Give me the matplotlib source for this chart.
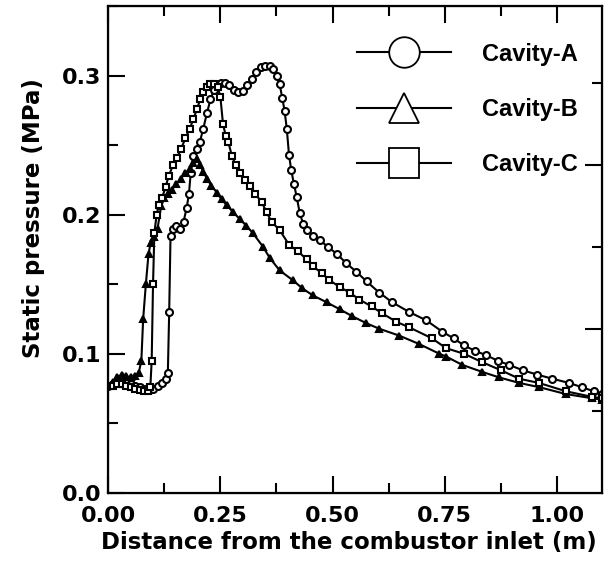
import numpy as np
import matplotlib
matplotlib.use("Agg")
import matplotlib.pyplot as plt
from matplotlib.ticker import MultipleLocator, FixedLocator, NullFormatter

# Cavity-A (circles)
x_a = [0.000, 0.010, 0.020, 0.030, 0.040, 0.050, 0.060, 0.070, 0.080, 0.090,
       0.100, 0.110, 0.120, 0.128, 0.133, 0.136, 0.139, 0.145, 0.152, 0.160,
       0.168, 0.175, 0.180, 0.184, 0.190, 0.197, 0.204, 0.212, 0.220, 0.228,
       0.236, 0.244, 0.252, 0.260, 0.270, 0.280, 0.290, 0.300, 0.310, 0.320,
       0.330, 0.340, 0.350, 0.360, 0.368, 0.376, 0.382, 0.388, 0.393, 0.398,
       0.403, 0.408, 0.414, 0.420, 0.427, 0.435, 0.444, 0.457, 0.471, 0.489,
       0.509, 0.531, 0.553, 0.576, 0.604, 0.633, 0.671, 0.709, 0.744, 0.770,
       0.793, 0.818, 0.842, 0.868, 0.893, 0.925, 0.956, 0.990, 1.027, 1.055,
       1.082, 1.100]
p_a = [0.077, 0.078, 0.079, 0.080, 0.079, 0.078, 0.077, 0.076, 0.075, 0.074,
       0.075, 0.077, 0.079, 0.082, 0.086, 0.130, 0.185, 0.190, 0.192, 0.190,
       0.195, 0.205, 0.215, 0.230, 0.242, 0.247, 0.252, 0.262, 0.273, 0.283,
       0.290, 0.294, 0.295, 0.295, 0.293, 0.290, 0.288, 0.289, 0.293, 0.298,
       0.303, 0.306, 0.307, 0.307, 0.305, 0.300, 0.294, 0.284, 0.275, 0.262,
       0.243, 0.232, 0.222, 0.213, 0.201, 0.193, 0.189, 0.185, 0.182, 0.177,
       0.172, 0.165, 0.159, 0.152, 0.144, 0.137, 0.130, 0.124, 0.116, 0.111,
       0.106, 0.102, 0.099, 0.095, 0.092, 0.088, 0.085, 0.082, 0.079, 0.076,
       0.073, 0.071]

# Cavity-B (triangles)
x_b = [0.000, 0.010, 0.020, 0.030, 0.040, 0.050, 0.060, 0.068, 0.074, 0.078,
       0.084, 0.090, 0.095, 0.102, 0.110, 0.118, 0.125, 0.133, 0.142, 0.152,
       0.162, 0.172, 0.182, 0.190, 0.198, 0.205, 0.212, 0.220, 0.230, 0.242,
       0.253, 0.264, 0.278, 0.293, 0.308, 0.322, 0.345, 0.360, 0.382, 0.411,
       0.433, 0.456, 0.487, 0.516, 0.544, 0.575, 0.604, 0.649, 0.693, 0.738,
       0.753, 0.789, 0.833, 0.871, 0.916, 0.960, 1.020, 1.078, 1.100]
p_b = [0.077, 0.080, 0.083, 0.085, 0.084, 0.083, 0.084, 0.086, 0.095, 0.125,
       0.150, 0.172, 0.180, 0.184, 0.190, 0.206, 0.212, 0.215, 0.218, 0.222,
       0.226, 0.230, 0.233, 0.237, 0.240, 0.236, 0.231, 0.226, 0.221, 0.216,
       0.211, 0.207, 0.202, 0.197, 0.192, 0.187, 0.177, 0.169, 0.160, 0.153,
       0.147, 0.142, 0.137, 0.132, 0.127, 0.122, 0.118, 0.113, 0.107, 0.100,
       0.098, 0.092, 0.087, 0.083, 0.079, 0.076, 0.071, 0.068, 0.067]

# Cavity-C (squares)
x_c = [0.000, 0.010, 0.020, 0.030, 0.040, 0.050, 0.060, 0.070, 0.080, 0.088,
       0.094, 0.097, 0.100, 0.103, 0.108, 0.113, 0.120, 0.128, 0.135, 0.145,
       0.153, 0.162, 0.172, 0.182, 0.190, 0.198, 0.205, 0.212, 0.220, 0.228,
       0.236, 0.244, 0.250, 0.256, 0.262, 0.268, 0.276, 0.284, 0.293, 0.305,
       0.316, 0.328, 0.342, 0.353, 0.364, 0.382, 0.404, 0.422, 0.442, 0.456,
       0.476, 0.493, 0.516, 0.538, 0.560, 0.587, 0.611, 0.642, 0.671, 0.722,
       0.753, 0.793, 0.833, 0.876, 0.916, 0.960, 1.020, 1.078, 1.100]
p_c = [0.077, 0.077, 0.078, 0.078, 0.077, 0.076, 0.075, 0.074, 0.073, 0.073,
       0.076, 0.095, 0.150, 0.187, 0.200, 0.207, 0.212, 0.220, 0.228, 0.236,
       0.241, 0.247, 0.255, 0.262, 0.269, 0.276, 0.283, 0.288, 0.292, 0.294,
       0.294, 0.292, 0.285, 0.265, 0.257, 0.252, 0.242, 0.236, 0.230, 0.225,
       0.221, 0.215, 0.209, 0.202, 0.195, 0.189, 0.178, 0.174, 0.168, 0.163,
       0.158, 0.153, 0.148, 0.144, 0.139, 0.134, 0.129, 0.123, 0.119, 0.111,
       0.104, 0.100, 0.094, 0.088, 0.082, 0.079, 0.073, 0.069, 0.068]

labels = ['Cavity-A', 'Cavity-B', 'Cavity-C']


def main():
    fig = plt.figure(figsize=(6.11, 5.69), dpi=100)
    ax = fig.add_axes([0.177, 0.134, 0.808, 0.855])

    style = dict(color='black', lw=1.5, markersize=5, mew=1.5,
                 markeredgecolor='black')
    ax.plot(x_a, p_a, marker='o', markerfacecolor='white', label=labels[0], **style)
    ax.plot(x_b, p_b, marker='^', markerfacecolor='black', label=labels[1], **style)
    ax.plot(x_c, p_c, marker='s', markerfacecolor='white', label=labels[2], **style)

    ax.set_xlim(0, 1.1)
    ax.set_ylim(0, 0.35)
    ax.xaxis.set_major_locator(MultipleLocator(0.25))
    ax.xaxis.set_minor_locator(MultipleLocator(0.125))
    ax.yaxis.set_major_locator(MultipleLocator(0.1))
    ax.yaxis.set_minor_locator(MultipleLocator(0.05))
    ax.xaxis.set_major_formatter(plt.FormatStrFormatter('%.2f'))
    ax.yaxis.set_major_formatter(plt.FormatStrFormatter('%.1f'))

    ax.tick_params(which='both', direction='in', top=True, right=False,
                   width=1.5, labelsize=16, pad=5)
    ax.tick_params(axis='x', which='major', pad=9.5)
    ax.tick_params(which='major', length=12)
    ax.tick_params(which='minor', length=7)
    for lab in ax.get_xticklabels() + ax.get_yticklabels():
        lab.set_fontweight('bold')
    for s in ax.spines.values():
        s.set_linewidth(1.6)

    # right-hand ticks in the scan sit at their own spacing
    ax2 = ax.twinx()
    ax2.set_ylim(0, 0.35)
    ax2.yaxis.set_major_locator(FixedLocator([0.118, 0.236]))
    ax2.yaxis.set_minor_locator(FixedLocator([0.059, 0.177, 0.295]))
    ax2.yaxis.set_major_formatter(NullFormatter())
    ax2.tick_params(which='both', direction='in', width=1.5)
    ax2.tick_params(which='major', length=12)
    ax2.tick_params(which='minor', length=7)

    ax.set_xlabel('Distance from the combustor inlet (m)', fontsize=16.5,
                  fontweight='bold')
    ax.xaxis.set_label_coords(0.488, -0.079)
    ax.set_ylabel('Static pressure (MPa)', fontsize=16.5, fontweight='bold')
    ax.yaxis.set_label_coords(-0.128, 0.565)

    leg = ax.legend(loc='upper left', bbox_to_anchor=(0.504, 0.925),
                    frameon=False, borderpad=0, borderaxespad=0,
                    handlelength=4.0, handletextpad=1.3, labelspacing=1.37,
                    prop={'family': 'Liberation Sans', 'weight': 'bold',
                          'size': 17})
    for h in leg.legend_handles:
        h.set_markersize(22)
        h.set_markeredgewidth(1.3)
        h.set_markerfacecolor('white')

    fig.savefig('out.png', dpi=100)


if __name__ == "__main__":
    main()
